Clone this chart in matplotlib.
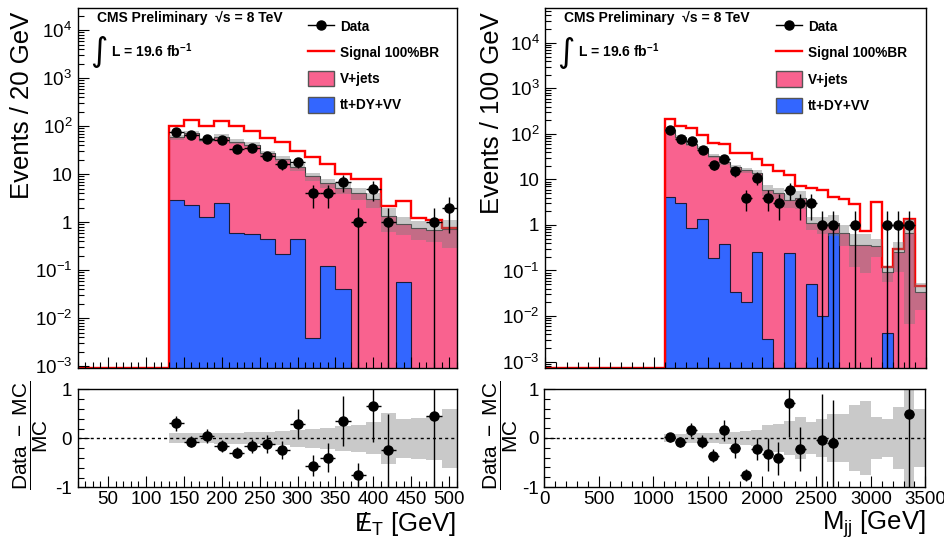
import numpy as np
import matplotlib
matplotlib.use("Agg")
import matplotlib.pyplot as plt
from matplotlib.lines import Line2D
from matplotlib.patches import Patch
from matplotlib.ticker import (FixedLocator, FixedFormatter, MultipleLocator,
                               LogLocator, NullFormatter)

plt.rcParams["font.family"] = ["Liberation Sans", "DejaVu Sans"]
plt.rcParams["mathtext.fontset"] = "custom"
plt.rcParams["mathtext.rm"] = "Liberation Sans"
plt.rcParams["mathtext.it"] = "Liberation Sans:italic"
plt.rcParams["mathtext.bf"] = "Liberation Sans:bold"
plt.rcParams["mathtext.default"] = "regular"
plt.rcParams["axes.unicode_minus"] = False

# ---------------- missing transverse energy, 20 GeV bins ----------------
met_range = (10, 510)
met_width = 20
met_first = 130
met_data = [76, 66, 55, 51, 34, 35, 24, 16, 18, 4, 4, 7, 1, 5, 1, 0, 0, 1, 2]
met_vjets = [55.4, 68.5, 50.9, 58.4, 47.3, 40.9, 26.7, 20.8, 13.4, 9.05,
             6.48, 5.16, 3.97, 3.0, 1.33, 0.85, 0.75, 0.69, 0.71]
met_other = [2.84, 2.27, 1.29, 2.46, 0.586, 0.56, 0.44, 0.213, 0.446, 0.0039,
             0.123, 0.0417, 0, 0, 0, 0.0557, 0, 0, 0]
met_signal = [99, 136, 99, 126, 99, 80, 58, 47, 31, 23, 16, 10, 8, 8,
              2.2, 2.8, 1.25, 1.12, 0.75]
met_relunc = [0.10, 0.10, 0.10, 0.11, 0.11, 0.12, 0.13, 0.14, 0.17, 0.19,
              0.22, 0.26, 0.27, 0.33, 0.52, 0.40, 0.42, 0.45, 0.60]

# ---------------- dijet invariant mass, 100 GeV bins ----------------
mjj_range = (0, 3500)
mjj_width = 100
mjj_first = 1100
mjj_data = [125, 79, 69, 45, 21, 28, 15, 4, 11, 4, 3, 6, 3, 3, 1, 1, 0, 1,
            0, 0, 1, 1, 1, 0]
mjj_vjets = [119.2, 82.3, 58.1, 47.3, 32.6, 23.8, 18.67, 15.88, 13.95, 5.94,
             5.13, 3.26, 3.87, 1.08, 1.04, 0.45, 0.67, 0.37, 0.36, 0.35,
             0.086, 0.26, 0.67, 0.034]
mjj_other = [4.1, 3.1, 0.875, 1.33, 0.19, 0.39, 0.034, 0.0207, 0.25, 0.0032,
             0, 0.239, 0, 0.05, 0.01, 0.67, 0, 0, 0, 0, 0.0043, 0, 0, 0]
mjj_signal = [215, 148, 136, 96, 62, 61, 39, 39, 28, 20.5, 15, 12.4, 7.3,
              6.6, 5.8, 4.2, 3.8, 2.9, 0.73, 3.15, 0.12, 0.29, 1.38, 0.045]
mjj_relunc = [0.085, 0.09, 0.10, 0.10, 0.11, 0.12, 0.13, 0.14, 0.16, 0.26,
              0.29, 0.34, 0.43, 0.32, 0.39, 0.48, 0.48, 0.67, 0.76, 0.43,
              0.38, 0.64, 0.99, 0.60]

PINK = "#F9628F"
BLUE = "#3366FF"
TICK_FS = 13.5
TITLE_FS = 18.5
W, H = 945, 538


def padded(values, lo, first, width):
    n_empty = int(round((first - lo) / width))
    return np.concatenate([np.zeros(n_empty), np.asarray(values, float)])


def style_axis(ax):
    for s in ax.spines.values():
        s.set_linewidth(1.0)
    ax.tick_params(which="both", direction="in", top=False, right=False,
                   labelsize=TICK_FS, width=0.8)
    ax.tick_params(which="major", length=8, pad=4)
    ax.tick_params(which="minor", length=4)


def draw_main(ax, edges, data, vjets, other, signal, relunc, ylim):
    floor = ylim[0] * 1e-3
    total = vjets + other
    pos = lambda v: np.where(v > 0, v, floor)
    ax.stairs(pos(total), edges, baseline=floor, fill=True, color=PINK,
              lw=0, zorder=1)
    ax.stairs(pos(other), edges, baseline=floor, fill=True, color=BLUE,
              lw=0, zorder=1.1)
    ax.stairs(pos(other), edges, baseline=floor, color="#1b1b3a", lw=0.8,
              zorder=1.2)
    ax.stairs(pos(total), edges, baseline=floor, color="#3a3a3a", lw=0.8,
              zorder=1.3)
    ax.stairs(np.maximum(signal, ylim[0]), edges, baseline=None,
              color="red", lw=1.7, zorder=1.4)
    has = total > 0
    up = np.where(has, total * (1 + relunc), floor)
    lo = np.where(has, np.maximum(total * (1 - relunc), floor), floor)
    ax.stairs(up, edges, baseline=lo, fill=True, color="#7a7a7a",
              alpha=0.42, lw=0, zorder=1.5)

    centers = 0.5 * (edges[1:] + edges[:-1])
    half = 0.5 * (edges[1] - edges[0])
    m = data > 0
    err = np.sqrt(data[m])
    ax.errorbar(centers[m], data[m],
                yerr=[np.minimum(err, data[m] - floor), err], xerr=half,
                fmt="o", color="black", ms=6.5, elinewidth=1.0, capsize=0,
                zorder=3)
    ax.set_yscale("log")
    ax.set_ylim(*ylim)
    ax.set_xlim(edges[0], edges[-1])
    decades = np.arange(-3, 5)
    labels = ["$10^{-3}$", "$10^{-2}$", "$10^{-1}$", "1", "10",
              "$10^{2}$", "$10^{3}$", "$10^{4}$"]
    ax.yaxis.set_major_locator(FixedLocator(10.0 ** decades))
    ax.yaxis.set_major_formatter(FixedFormatter(labels))
    ax.yaxis.set_minor_locator(LogLocator(base=10, subs=np.arange(2, 10),
                                          numticks=100))
    ax.yaxis.set_minor_formatter(NullFormatter())
    ax.tick_params(axis="x", labelbottom=False)


def draw_ratio(ax, edges, data, total, relunc):
    has = total > 0
    ax.stairs(np.where(has, relunc, 0), edges,
              baseline=np.where(has, -relunc, 0), fill=True,
              color="#c9c9c9", lw=0, zorder=1)
    ax.axhline(0, color="black", lw=1.0, ls=(0, (2.2, 2.2)), zorder=2)
    centers = 0.5 * (edges[1:] + edges[:-1])
    half = 0.5 * (edges[1] - edges[0])
    safe = np.where(has, total, 1.0)
    ratio = data / safe - 1
    rerr = np.sqrt(data) / safe
    m = (data > 0) & has & (ratio > -1) & (ratio < 1)
    ax.errorbar(centers[m], ratio[m], yerr=rerr[m], xerr=half, fmt="o",
                color="black", ms=6.5, elinewidth=1.0, capsize=0, zorder=3)
    ax.set_xlim(edges[0], edges[-1])
    ax.set_ylim(-1, 1)
    ax.yaxis.set_major_locator(FixedLocator([-1, 0, 1]))
    ax.yaxis.set_major_formatter(FixedFormatter(["-1", "0", "1"]))
    ax.yaxis.set_minor_locator(MultipleLocator(0.2))


def annotate(ax):
    ax.text(0.05, 0.993, "CMS Preliminary  \u221as = 8 TeV",
            transform=ax.transAxes, ha="left", va="top", fontsize=10,
            fontweight="bold")
    ax.text(0.056, 0.878, "\u222b", transform=ax.transAxes, ha="center",
            va="center", fontsize=24, family=["DejaVu Sans"])
    ax.text(0.087, 0.881, r"L = 19.6 fb$^{\mathbf{-1}}$",
            transform=ax.transAxes, ha="left", va="center", fontsize=10,
            fontweight="bold")
    handles = [
        Line2D([], [], color="black", marker="o", ms=6.5, lw=1.0),
        Line2D([], [], color="red", lw=1.7),
        Patch(facecolor=PINK, edgecolor="#555555", lw=1.0),
        Patch(facecolor=BLUE, edgecolor="#555555", lw=1.0),
    ]
    names = ["Data", "Signal 100%BR", "V+jets", "tt+DY+VV"]
    ax.legend(handles, names, loc="upper left",
              bbox_to_anchor=(0.608, 0.970), frameon=False,
              prop={"size": 9.8, "weight": "bold"}, handlelength=1.9,
              handleheight=1.35, labelspacing=0.8, handletextpad=0.45,
              borderpad=0, borderaxespad=0)


fig = plt.figure(figsize=(W / 100, H / 100), dpi=100)


def box(x0, y0, x1, y1):
    return [x0 / W, 1 - y1 / H, (x1 - x0) / W, (y1 - y0) / H]


# left column: missing transverse energy
met_edges = np.arange(met_range[0], met_range[1] + met_width, met_width)
md = padded(met_data, met_range[0], met_first, met_width)
mv = padded(met_vjets, met_range[0], met_first, met_width)
mo = padded(met_other, met_range[0], met_first, met_width)
ms_ = padded(met_signal, met_range[0], met_first, met_width)
mu = padded(met_relunc, met_range[0], met_first, met_width)

axL = fig.add_axes(box(77.7, 8, 456.7, 368))
draw_main(axL, met_edges, md, mv, mo, ms_, mu, (10 ** -3.035, 10 ** 4.46))
axL.xaxis.set_major_locator(MultipleLocator(50))
axL.xaxis.set_minor_locator(MultipleLocator(10))
style_axis(axL)
annotate(axL)

axLr = fig.add_axes(box(77.7, 389.3, 456.7, 487.3))
draw_ratio(axLr, met_edges, md, mv + mo, mu)
axLr.xaxis.set_major_locator(FixedLocator(np.arange(50, 501, 50)))
axLr.xaxis.set_minor_locator(MultipleLocator(10))
style_axis(axLr)
axLr.tick_params(axis="x", pad=3)

# right column: dijet mass
mjj_edges = np.arange(mjj_range[0], mjj_range[1] + mjj_width, mjj_width)
jd = padded(mjj_data, mjj_range[0], mjj_first, mjj_width)
jv = padded(mjj_vjets, mjj_range[0], mjj_first, mjj_width)
jo = padded(mjj_other, mjj_range[0], mjj_first, mjj_width)
js = padded(mjj_signal, mjj_range[0], mjj_first, mjj_width)
ju = padded(mjj_relunc, mjj_range[0], mjj_first, mjj_width)

axR = fig.add_axes(box(545, 8.3, 925.5, 367.7))
draw_main(axR, mjj_edges, jd, jv, jo, js, ju, (10 ** -3.136, 10 ** 4.76))
axR.xaxis.set_major_locator(MultipleLocator(500))
axR.xaxis.set_minor_locator(MultipleLocator(100))
style_axis(axR)
annotate(axR)

axRr = fig.add_axes(box(544.5, 389, 925.3, 487))
draw_ratio(axRr, mjj_edges, jd, jv + jo, ju)
axRr.xaxis.set_major_locator(MultipleLocator(500))
axRr.xaxis.set_minor_locator(MultipleLocator(100))
style_axis(axRr)
axRr.tick_params(axis="x", pad=3)

# axis titles
fig.text(22 / W, 1 - 12 / H, "Events / 20 GeV", rotation=90, ha="center",
         va="top", fontsize=TITLE_FS)
fig.text(492 / W, 1 - 12 / H, "Events / 100 GeV", rotation=90, ha="center",
         va="top", fontsize=TITLE_FS)
frac = r"$\dfrac{\mathrm{Data\ -\ MC}}{\mathrm{MC}}$"
fig.text(31 / W, 1 - 435 / H, frac, rotation=90, ha="center", va="center",
         fontsize=15)
fig.text(501 / W, 1 - 435 / H, frac, rotation=90, ha="center", va="center",
         fontsize=15)

met_lab = axLr.text(1.0, -0.375, r"$E_{T}$ [GeV]", transform=axLr.transAxes,
                    ha="right", va="center", fontsize=TITLE_FS)
axRr.text(1.0, -0.375, r"$M_{jj}$ [GeV]", transform=axRr.transAxes,
          ha="right", va="center", fontsize=TITLE_FS)

# slash through the E of the missing-energy title
fig.canvas.draw()
bb = met_lab.get_window_extent(fig.canvas.get_renderer())
fs_px = TITLE_FS * fig.dpi / 72
fig.text((bb.x0 + 0.34 * fs_px) / W, (bb.y0 + 0.55 * fs_px) / H, "/",
         ha="center", va="center", fontsize=TITLE_FS)

fig.savefig("out.png", dpi=100)
